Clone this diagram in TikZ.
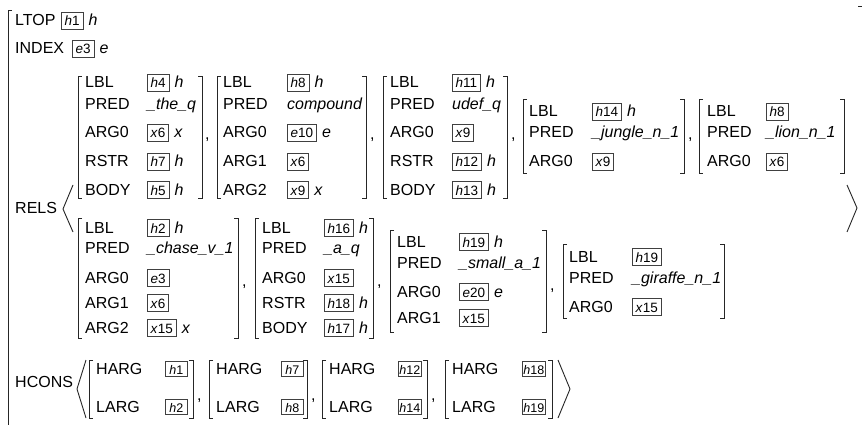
\documentclass[tikz,border=0pt]{standalone}
\usepackage{fontspec}
\setmainfont{Liberation Sans}
\tikzset{
  lab/.style={anchor=base west, inner sep=0pt, font=\fontsize{16}{19}\selectfont},
  val/.style={anchor=base west, inner sep=0pt, font=\fontsize{16}{19}\selectfont\itshape},
  tag/.style={anchor=base west, draw=black!75, line width=0.8pt, inner xsep=3.3pt, inner ysep=2.5pt,
              text height=11pt, text depth=0.5pt, font=\fontsize{13.5}{15}\selectfont},
  htag/.style={tag, inner xsep=1pt, inner ysep=2.2pt, text height=10pt, text depth=0pt,
              minimum width=22pt, font=\fontsize{12.5}{14}\selectfont},
  brk/.style={line width=0.9pt, draw=black!85},
}
\newcommand\tg[2]{\textit{#1}#2}
% row with a boxed tag: name, label x, value x, baseline y, label, letter, digits, type
\newcommand\rowB[8]{%
  \node[lab] (#1-l) at (#2,#4) {#5};
  \node[tag] (#1-t) at (#3,#4) {\tg{#6}{#7}};
  \node[val] (#1-v) at ([xshift=5pt]#1-t.base east) {#8};}
% row with a plain italic value
\newcommand\rowP[6]{%
  \node[lab] (#1-l) at (#2,#4) {#5};
  \node[val] (#1-v) at (#3,#4) {#6};}
% HCONS row
\newcommand\rowH[6]{%
  \node[lab] (#1-l) at (#2,#4) {#5};
  \node[htag] (#1-t) at (#3,#4) {\tg{h}{#6}};}
\newcommand\avm[4]{%
  \draw[brk] (#1+4,#3) -- (#1,#3) -- (#1,#4) -- (#1+4,#4);
  \draw[brk] (#2-4,#3) -- (#2,#3) -- (#2,#4) -- (#2-4,#4);}
\newcommand\cma[3]{\node[lab] (#1) at (#2,#3) {,};}
\begin{document}
\begin{tikzpicture}[x=1pt,y=-1pt]
\fill[white] (0,0) rectangle (862,425);
\useasboundingbox (0,0) rectangle (862,425);
% outer structure
\draw[brk] (12,10) -- (8,10) -- (8,426);
\draw[brk] (858,6) -- (862,6);
\rowB{ltop}{15}{61}{26}{LTOP}{h}{1}{h}
\rowB{index}{15}{72}{54}{INDEX}{e}{3}{e}
% RELS
\node[lab] (rels) at (15,213) {RELS};
\draw[brk] (73,185) -- (63,209) -- (73,232);
\draw[brk] (847,185) -- (857,208) -- (847,232);
% AVM 1
\rowB{a1r1}{85}{147}{88}{LBL}{h}{4}{h}
\rowP{a1r2}{85}{147}{110}{PRED}{\_the\_q}
\rowB{a1r3}{85}{147}{138}{ARG0}{x}{6}{x}
\rowB{a1r4}{85}{147}{167}{RSTR}{h}{7}{h}
\rowB{a1r5}{85}{147}{195}{BODY}{h}{5}{h}
\avm{78}{202}{76}{198}
\cma{c1}{205}{140}
% AVM 2
\rowB{a2r1}{223}{287}{88}{LBL}{h}{8}{h}
\rowP{a2r2}{223}{287}{110}{PRED}{compound}
\rowB{a2r3}{223}{287}{138}{ARG0}{e}{10}{e}
\rowB{a2r4}{223}{287}{167}{ARG1}{x}{6}{}
\rowB{a2r5}{223}{287}{195}{ARG2}{x}{9}{x}
\avm{217}{366}{76}{198}
\cma{c2}{370}{140}
% AVM 3
\rowB{a3r1}{390}{452}{88}{LBL}{h}{11}{h}
\rowP{a3r2}{390}{452}{110}{PRED}{udef\_q}
\rowB{a3r3}{390}{452}{138}{ARG0}{x}{9}{}
\rowB{a3r4}{390}{452}{167}{RSTR}{h}{12}{h}
\rowB{a3r5}{390}{452}{195}{BODY}{h}{13}{h}
\avm{383}{507}{76}{198}
\cma{c3}{511}{140}
% AVM 4
\rowB{a4r1}{529}{592}{117}{LBL}{h}{14}{h}
\rowP{a4r2}{529}{592}{138}{PRED}{\_jungle\_n\_1}
\rowB{a4r3}{529}{592}{167}{ARG0}{x}{9}{}
\avm{523}{684}{99}{173}
\cma{c4}{688}{140}
% AVM 5
\rowB{a5r1}{707}{766}{117}{LBL}{h}{8}{}
\rowP{a5r2}{707}{766}{138}{PRED}{\_lion\_n\_1}
\rowB{a5r3}{707}{766}{167}{ARG0}{x}{6}{}
\avm{699}{844}{99}{173}
% AVM 6
\rowB{a6r1}{85}{147}{233}{LBL}{h}{2}{h}
\rowP{a6r2}{85}{147}{253}{PRED}{\_chase\_v\_1}
\rowB{a6r3}{85}{147}{283}{ARG0}{e}{3}{}
\rowB{a6r4}{85}{147}{308}{ARG1}{x}{6}{}
\rowB{a6r5}{85}{147}{333}{ARG2}{x}{15}{x}
\avm{78}{238}{218}{338}
\cma{c6}{242}{286}
% AVM 7
\rowB{a7r1}{262}{324}{233}{LBL}{h}{16}{h}
\rowP{a7r2}{262}{324}{253}{PRED}{\_a\_q}
\rowB{a7r3}{262}{324}{283}{ARG0}{x}{15}{}
\rowB{a7r4}{262}{324}{308}{RSTR}{h}{18}{h}
\rowB{a7r5}{262}{324}{333}{BODY}{h}{17}{h}
\avm{255}{373}{218}{338}
\cma{c7}{377}{286}
% AVM 8
\rowB{a8r1}{397}{459}{247}{LBL}{h}{19}{h}
\rowP{a8r2}{397}{459}{268}{PRED}{\_small\_a\_1}
\rowB{a8r3}{397}{459}{297}{ARG0}{e}{20}{e}
\rowB{a8r4}{397}{459}{323}{ARG1}{x}{15}{}
\avm{390}{546}{230}{332}
\cma{c8}{550}{290}
% AVM 9
\rowB{a9r1}{569}{632}{262}{LBL}{h}{19}{}
\rowP{a9r2}{569}{632}{283}{PRED}{\_giraffe\_n\_1}
\rowB{a9r3}{569}{632}{312}{ARG0}{x}{15}{}
\avm{563}{724}{244}{318}
% HCONS
\node[lab] (hcons) at (15,387) {HCONS};
\draw[brk] (86,360) -- (77,389) -- (86,418);
\rowH{h1a}{96}{165}{374}{HARG}{1}
\rowH{h1b}{96}{165}{412}{LARG}{2}
\avm{89}{193}{360}{418}
\cma{hc1}{197}{400}
\rowH{h2a}{216}{281}{374}{HARG}{7}
\rowH{h2b}{216}{281}{412}{LARG}{8}
\avm{209}{307}{360}{418}
\cma{hc2}{311}{400}
\rowH{h3a}{329}{398}{374}{HARG}{12}
\rowH{h3b}{329}{398}{412}{LARG}{14}
\avm{322}{427}{360}{418}
\cma{hc3}{431}{400}
\rowH{h4a}{452}{522}{374}{HARG}{18}
\rowH{h4b}{452}{522}{412}{LARG}{19}
\avm{445}{552}{360}{418}
\draw[brk] (558,360) -- (570,389) -- (558,418);
\end{tikzpicture}
\end{document}
